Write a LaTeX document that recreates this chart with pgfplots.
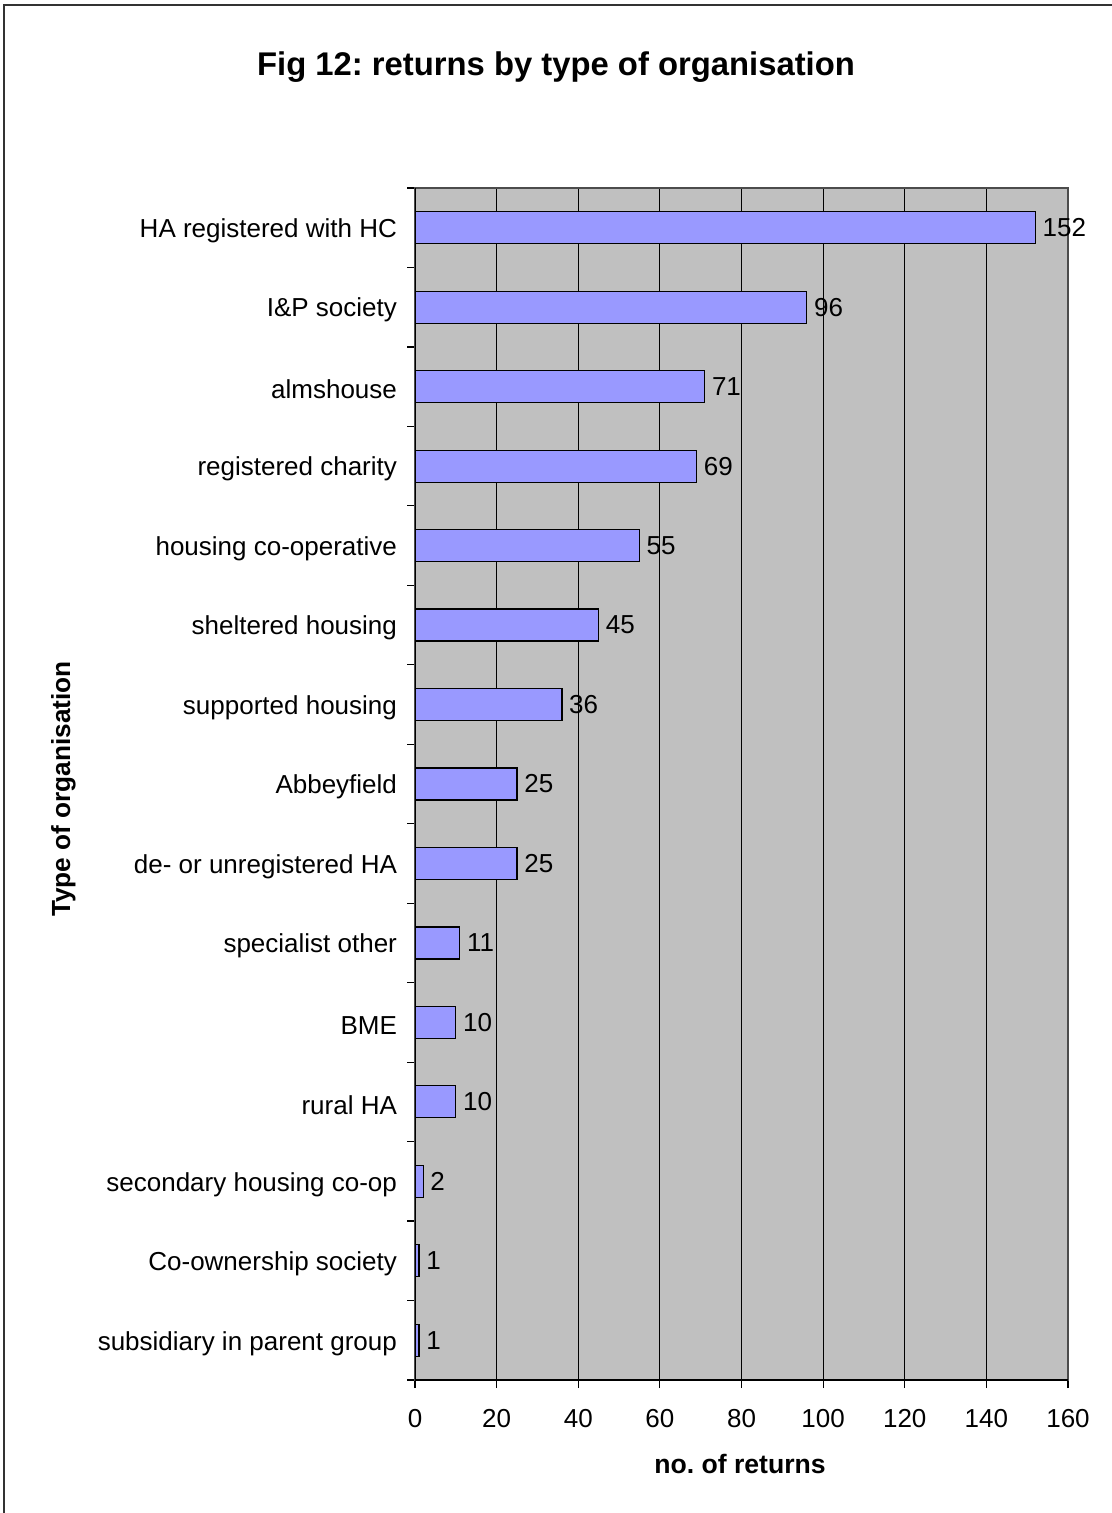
\documentclass[border=0pt]{standalone}
\usepackage{fontspec}
\setmainfont{Liberation Sans}
\usepackage{pgfplots}
\pgfplotsset{compat=1.18}
\definecolor{barblue}{HTML}{9999FF}
\definecolor{plotgray}{HTML}{C0C0C0}
\begin{document}
\frenchspacing
\begin{tikzpicture}
\useasboundingbox (0,0) rectangle (556pt,-756.5pt);
\draw[line width=1pt, black!80] (2pt,-2.5pt) rectangle (600pt,-800pt);
\node[font=\bfseries\fontsize{16.4}{20}\selectfont, anchor=base] at (278pt,-38pt) {Fig 12: returns by type of organisation};
\node[font=\bfseries\fontsize{13.3}{16}\selectfont, anchor=base] at (370pt,-736.5pt) {no. of returns};
\node[font=\bfseries\fontsize{13.1}{16}\selectfont, anchor=base, rotate=90] at (35pt,-394.5pt) {Type of organisation};
\begin{axis}[
 at={(207.5pt,-690pt)}, anchor=south west,
 scale only axis, width=326.5pt, height=596pt,
 xbar, bar width=16pt,
 xmin=0, xmax=160, ymin=-0.5, ymax=14.5,
 xtick={0,20,...,160},
 ytick={0,...,14},
 yticklabels={subsidiary in parent group, Co-ownership society, secondary housing co-op, rural HA, BME, specialist other, de- or unregistered HA, Abbeyfield, supported housing, sheltered housing, housing co-operative, registered charity, almshouse, I\&P society, HA registered with HC},
 minor ytick={-0.5,0.5,...,14.5},
 major y tick style={draw=none},
 tick align=outside,
 major tick length=4pt, minor tick length=4pt,
 xtick pos=bottom, ytick pos=left,
 xmajorgrids, major x grid style={black, line width=0.6pt},
 axis background/.style={fill=plotgray},
 axis line style={black!70, line width=0.6pt},
 tick style={black, line width=0.6pt},
 every tick label/.append style={font=\fontsize{13}{15}\selectfont},
 xticklabel style={yshift=-7pt},
 yticklabel style={xshift=-1.5pt, yshift=-1.5pt},
 /pgf/number format/assume math mode=true,
 nodes near coords,
 every node near coord/.append style={font=\fontsize{13}{15}\selectfont, black},
]
\addplot[fill=barblue, draw=black, line width=0.6pt] coordinates {(1,0) (1,1) (2,2) (10,3) (10,4) (11,5) (25,6) (25,7) (36,8) (45,9) (55,10) (69,11) (71,12) (96,13) (152,14)};
\draw[black, line width=0.8pt] (axis cs:0,-0.5) -- (axis cs:0,14.5);
\draw[black, line width=0.8pt] (axis cs:0,-0.5) -- (axis cs:160,-0.5);
\end{axis}
\end{tikzpicture}
\end{document}
